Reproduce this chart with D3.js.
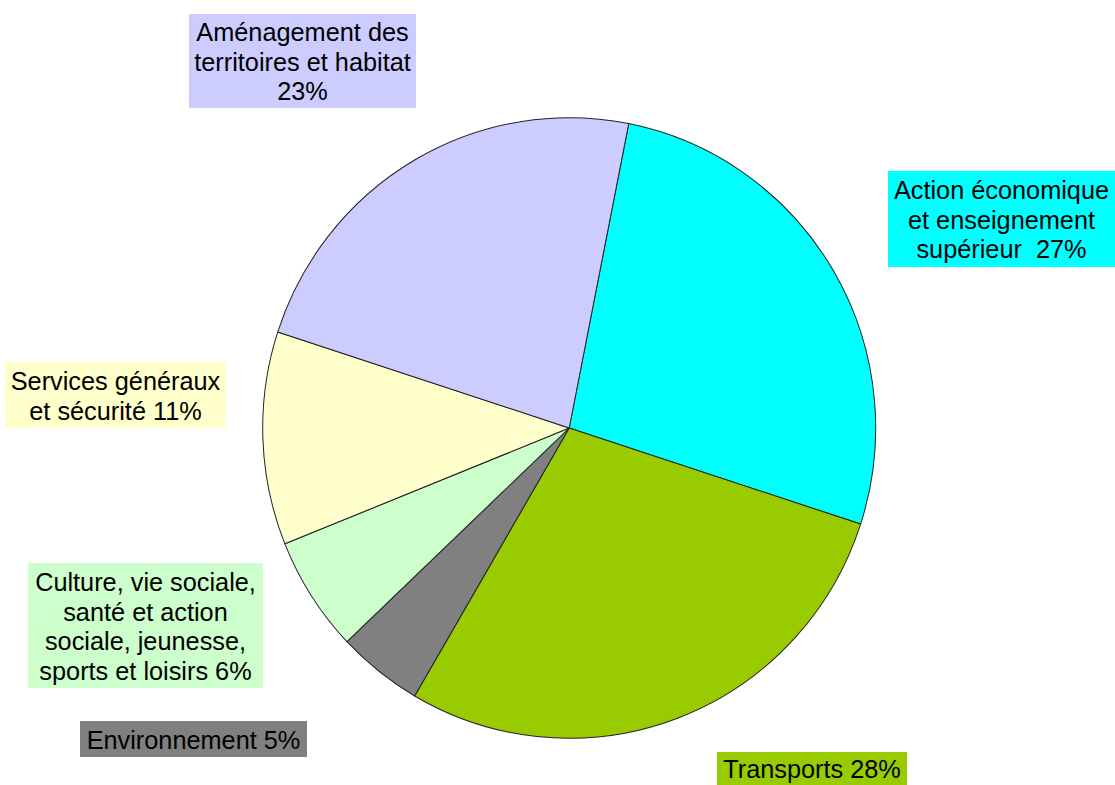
<!DOCTYPE html>
<html>
<head>
<meta charset="utf-8">
<script src="https://cdnjs.cloudflare.com/ajax/libs/d3/7.8.5/d3.min.js"></script>
<style>
  body { margin: 0; background: #fff; }
  svg text { font-family: Arial, "Liberation Sans", sans-serif; white-space: pre; }
</style>
</head>
<body>
<script>
// Data (clockwise from the top)
var categories = ['Action économique et enseignement supérieur', 'Transports', 'Environnement',
  'Culture, vie sociale, santé et action sociale, jeunesse, sports et loisirs',
  'Services généraux et sécurité', 'Aménagement des territoires et habitat'];
var values = [26.9, 28.4, 4.5, 6.0, 11.1, 23.1];
var colors = ['#00ffff', '#99cc00', '#808080', '#ccffcc', '#ffffcc', '#ccccff'];
var labelLines = [
  ['Action économique', 'et enseignement', 'supérieur  27%'],
  ['Transports 28%'],
  ['Environnement 5%'],
  ['Culture, vie sociale,', 'santé et action', 'sociale, jeunesse,', 'sports et loisirs 6%'],
  ['Services généraux', 'et sécurité 11%'],
  ['Aménagement des', 'territoires et habitat', '23%']
];

// label box layout [x, y, w, h]
var boxes = [
  [888, 171, 227, 96],
  [717, 752, 190, 33],
  [80, 721, 227, 36],
  [28, 563, 235, 125],
  [5, 362, 221, 66],
  [189, 14, 227, 94]
];

var width = 1115, height = 785;
var cx = 569.2, cy = 428, rx = 306.5, ry = 310.3;
var startAngle = 11.2 * Math.PI / 180;

var svg = d3.select('body').append('svg')
  .attr('width', width)
  .attr('height', height);

var pie = d3.pie()
  .sort(null)
  .startAngle(startAngle)
  .endAngle(startAngle + 2 * Math.PI)
  .value(function(d) { return d; });

var arc = d3.arc().innerRadius(0).outerRadius(rx);

svg.append('g')
  .attr('transform', 'translate(' + cx + ',' + cy + ') scale(1,' + (ry / rx) + ')')
  .selectAll('path')
  .data(pie(values))
  .enter().append('path')
  .attr('d', arc)
  .style('fill', function(d, i) { return colors[i]; })
  .style('stroke', '#222')
  .style('stroke-width', 1)
  .style('stroke-linejoin', 'round');

var fontSize = 25.3;
var lineH = 29.5;

var labels = svg.selectAll('g.label')
  .data(categories)
  .enter().append('g')
  .attr('class', 'label');

labels.append('rect')
  .attr('x', function(d, i) { return boxes[i][0]; })
  .attr('y', function(d, i) { return boxes[i][1]; })
  .attr('width', function(d, i) { return boxes[i][2]; })
  .attr('height', function(d, i) { return boxes[i][3]; })
  .style('fill', function(d, i) { return colors[i]; });

labels.each(function(d, i) {
  var b = boxes[i];
  var lines = labelLines[i];
  var midY = b[1] + b[3] / 2 + 1;
  var top = midY - (lines.length - 1) * lineH / 2;
  d3.select(this).selectAll('text')
    .data(lines)
    .enter().append('text')
    .attr('x', b[0] + b[2] / 2)
    .attr('y', function(t, j) { return top + j * lineH; })
    .attr('dy', '0.35em')
    .attr('text-anchor', 'middle')
    .style('font-size', fontSize + 'px')
    .style('fill', '#000')
    .text(function(t) { return t; });
});
</script>
</body>
</html>
